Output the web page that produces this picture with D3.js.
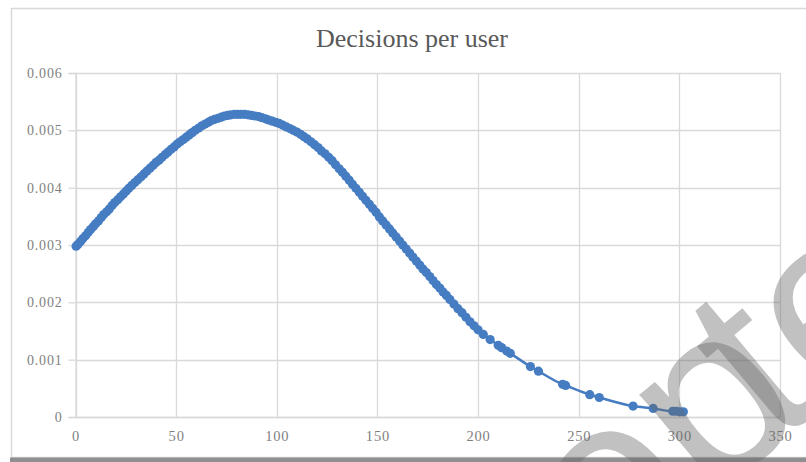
<!DOCTYPE html>
<html>
<head>
<meta charset="utf-8">
<script src="https://cdn.jsdelivr.net/npm/d3@7"></script>
<style>
html,body{margin:0;padding:0;background:#fff;}
svg{display:block;}
</style>
</head>
<body>
<svg id="chart" width="806" height="462"></svg>
<script>
const title = "Decisions per user";
const xTicks = [0, 50, 100, 150, 200, 250, 300, 350];
const yTicks = [0, 0.001, 0.002, 0.003, 0.004, 0.005, 0.006];
const yTickLabels = ["0", "0.001", "0.002", "0.003", "0.004", "0.005", "0.006"];
const watermarkHead = "Accep";
const watermarkTail = "ted";

const xValues = [
  0.3, 1.2, 2.5, 3.6, 5.0, 6.3, 7.5, 8.8, 10.0, 11.4, 12.8, 14.0, 15.5, 16.8, 18.2, 19.5,
  21.0, 22.4, 23.8, 25.2, 26.5, 28.0, 29.5, 31.0, 32.6, 34.0, 35.5, 37.0, 38.6, 40.0,
  41.5, 43.0, 44.6, 46.0, 47.5, 49.0, 50.5, 52.0, 53.6, 55.0, 56.5, 58.0, 59.5, 61.2,
  62.8, 64.4, 66.0, 67.5, 69.0, 70.8, 72.4, 74.0, 75.6, 77.2, 79.0, 80.6, 82.2, 84.0,
  85.8, 87.5, 89.2, 91.0, 92.6, 94.4, 96.0, 97.8, 99.5, 101.2, 103.0, 104.8, 106.5,
  108.2, 110.0, 111.8, 113.5, 115.2, 117.0, 118.8, 120.5, 122.2, 124.0, 125.8, 127.5,
  129.2, 131.0, 132.6, 134.3, 136.0, 137.6, 139.3, 141.0, 142.6, 144.3, 146.0, 147.6,
  149.3, 151.0, 152.6, 154.3, 156.0, 157.6, 159.3, 161.0, 162.6, 164.3, 166.0, 167.6,
  169.3, 171.0, 172.6, 174.3, 176.0, 177.6, 179.3, 181.0, 182.6, 184.3, 186.0, 188.0,
  190.0, 192.0, 194.0, 196.0, 198.0, 200.0, 202.6, 206.0, 210.0, 211.7, 214.2, 216.0,
  226.0, 230.0, 242.0, 243.5, 255.5, 260.2, 277.0, 287.0, 296.7, 298.5, 300.3, 302.0
];
const yValues = [
  0.00298, 0.00301, 0.00306, 0.00311, 0.00316, 0.00322, 0.00327, 0.00332, 0.00337, 0.00342,
  0.00348, 0.00353, 0.00358, 0.00363, 0.00369, 0.00374, 0.00379, 0.00384, 0.00389, 0.00394,
  0.00399, 0.00404, 0.00409, 0.00414, 0.00419, 0.00424, 0.00429, 0.00434, 0.00439, 0.00444,
  0.00448, 0.00453, 0.00458, 0.00462, 0.00467, 0.00471, 0.00476, 0.00480, 0.00484, 0.00488,
  0.00492, 0.00496, 0.00500, 0.00504, 0.00508, 0.00511, 0.00514, 0.00517, 0.00519, 0.00521,
  0.00523, 0.00525, 0.00526, 0.00527, 0.00528, 0.00528, 0.00528, 0.00528, 0.00527, 0.00526,
  0.00525, 0.00524, 0.00522, 0.00520, 0.00518, 0.00516, 0.00514, 0.00512, 0.00509, 0.00506,
  0.00503, 0.00500, 0.00497, 0.00493, 0.00489, 0.00485, 0.00480, 0.00475, 0.00470, 0.00464,
  0.00459, 0.00453, 0.00447, 0.00440, 0.00433, 0.00427, 0.00420, 0.00413, 0.00406, 0.00399,
  0.00392, 0.00385, 0.00378, 0.00371, 0.00364, 0.00357, 0.00349, 0.00342, 0.00335, 0.00328,
  0.00321, 0.00314, 0.00307, 0.00300, 0.00293, 0.00286, 0.00279, 0.00272, 0.00265, 0.00258,
  0.00252, 0.00245, 0.00238, 0.00231, 0.00225, 0.00218, 0.00212, 0.00205, 0.00197, 0.00189,
  0.00182, 0.00174, 0.00166, 0.00159, 0.00152, 0.00144, 0.00135, 0.00125, 0.00121, 0.00115,
  0.00111, 0.00088, 0.00080, 0.00057, 0.00055, 0.00039, 0.00034, 0.00019, 0.00015, 0.00010,
  0.00010, 0.00009, 0.00009
];

const data = xValues.map((x, i) => ({x, y: yValues[i]}));

const svg = d3.select("#chart");
const W = 806, H = 462;
const plot = {left: 75.5, right: 780, top: 73, bottom: 417};

const x = d3.scaleLinear().domain([0, 350]).range([plot.left, plot.right]);
const y = d3.scaleLinear().domain([0, 0.006]).range([plot.bottom, plot.top]);

// chart area frame
svg.append("rect").attr("x", 11.5).attr("y", 8.5).attr("width", W).attr("height", 449)
  .attr("fill", "#fff").attr("stroke", "#d9d9d9").attr("stroke-width", 1.5);
svg.append("rect").attr("x", 10).attr("y", 457.5).attr("width", W).attr("height", 5)
  .attr("fill", "#8f8f8f");

// title
svg.append("text").attr("x", 412).attr("y", 47).attr("text-anchor", "middle")
  .attr("font-family", "Liberation Serif, serif").attr("font-size", 26)
  .attr("fill", "#595959").text(title);

// gridlines
const grid = svg.append("g").attr("stroke", "#d9d9d9").attr("stroke-width", 1.3);
grid.selectAll("line.h").data(yTicks).join("line").attr("class", "h")
  .attr("x1", plot.left).attr("x2", plot.right)
  .attr("y1", d => Math.round(y(d)) + 0.5).attr("y2", d => Math.round(y(d)) + 0.5);
grid.selectAll("line.v").data(xTicks).join("line").attr("class", "v")
  .attr("y1", plot.top).attr("y2", plot.bottom)
  .attr("x1", d => Math.round(x(d)) + 0.5).attr("x2", d => Math.round(x(d)) + 0.5);

// y axis
const yAxis = d3.axisLeft(y).tickValues(yTicks).tickSize(7).tickPadding(6)
  .tickFormat((d, i) => yTickLabels[i]);
const gy = svg.append("g").attr("transform", `translate(${plot.left},0)`).call(yAxis);
gy.select(".domain").attr("stroke", "#d9d9d9").attr("stroke-width", 1.3);
gy.selectAll(".tick line").attr("stroke", "#d9d9d9").attr("stroke-width", 1.3);
gy.selectAll(".tick text").attr("font-family", "Liberation Serif, serif")
  .attr("font-size", 14).attr("letter-spacing", 0.8).attr("fill", "#7f7f7f");

// x axis
const xAxis = d3.axisBottom(x).tickValues(xTicks).tickSize(0).tickPadding(14)
  .tickFormat(d3.format("d"));
const gx = svg.append("g").attr("transform", `translate(0,${plot.bottom})`).call(xAxis);
gx.select(".domain").attr("stroke", "#d9d9d9").attr("stroke-width", 1.3);
gx.selectAll(".tick text").attr("font-family", "Liberation Serif, serif")
  .attr("font-size", 14.5).attr("letter-spacing", 0.8).attr("fill", "#7f7f7f");

// series line
const blue = "#467dc2";
const line = d3.line().x(d => x(d.x)).y(d => y(d.y)).curve(d3.curveMonotoneX);
svg.append("path").datum(data).attr("d", line).attr("fill", "none")
  .attr("stroke", blue).attr("stroke-width", 2.5);

// markers
svg.append("g").selectAll("circle").data(data).join("circle")
  .attr("cx", d => x(d.x)).attr("cy", d => y(d.y)).attr("r", 4.6)
  .attr("fill", blue);

// watermark (partly outside the picture, as in the reference)
const wm = svg.append("text").attr("x", 300).attr("y", 845)
  .attr("transform", "rotate(-40,300,845)")
  .attr("font-family", "Liberation Sans, Arial, sans-serif").attr("font-size", 240)
  .attr("fill", "rgb(100,100,100)").attr("fill-opacity", 0.4);
wm.append("tspan").text(watermarkHead);
wm.append("tspan").attr("dx", -46).text(watermarkTail);
</script>
</body>
</html>
